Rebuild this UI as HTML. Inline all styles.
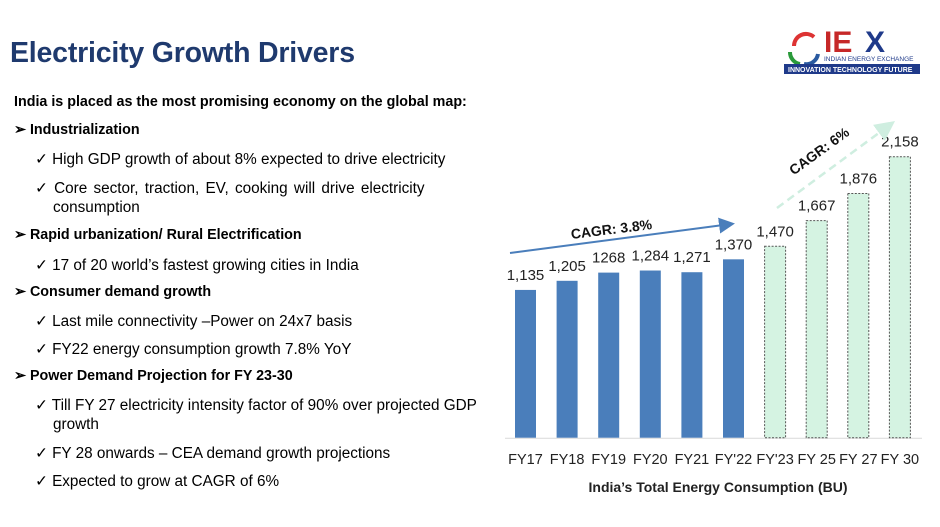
<!DOCTYPE html>
<html><head><meta charset="utf-8"><style>
body{margin:0;width:940px;height:527px;background:#fff;font-family:"Liberation Sans",sans-serif;position:relative;overflow:hidden}
.t{position:absolute;white-space:nowrap;color:#000;font-size:15.3px}
.b{font-weight:bold;font-size:14.3px}
</style></head><body>
<div class="t b" style="left:10px;top:37px;font-size:28.5px;color:#1f3a6e;letter-spacing:-0.2px">Electricity Growth Drivers</div>
<div style="position:absolute;left:782px;top:22px;width:140px;height:52px">
<svg width="140" height="52"><path d="M12 24 a12 12 0 0 1 20-9" stroke="#d33" stroke-width="4" fill="none"/><path d="M8 30 a12 12 0 0 0 10 12" stroke="#2a9a3a" stroke-width="4" fill="none"/><path d="M22 42 a12 12 0 0 0 14-10" stroke="#2a5aa0" stroke-width="4" fill="none"/>
<text x="42" y="30" font-family="Liberation Sans" font-weight="bold" font-size="30" fill="#c62828">IE</text><text x="83" y="30" font-family="Liberation Sans" font-weight="bold" font-size="30" fill="#1f3a8a">X</text>
<text x="42" y="39" font-family="Liberation Sans" font-size="6.5" fill="#1f3a8a">INDIAN ENERGY EXCHANGE</text>
<rect x="2" y="42" width="136" height="10" fill="#1f3a8a"/><text x="6" y="50" font-family="Liberation Sans" font-weight="bold" font-size="7" fill="#fff">INNOVATION TECHNOLOGY FUTURE</text></svg></div>
<div class="t b" style="left:14px;top:94px">India is placed as the most promising economy on the global map:</div>
<div class="t b" style="left:14px;top:122px">➢ Industrialization</div>
<div class="t" style="left:35px;top:150px">✓ High GDP growth of about 8% expected to drive electricity</div>
<div class="t" style="left:35px;top:179px;word-spacing:2px">✓ Core sector, traction, EV, cooking will drive electricity</div>
<div class="t" style="left:53px;top:199px">consumption</div>
<div class="t b" style="left:14px;top:227px">➢ Rapid urbanization/ Rural Electrification</div>
<div class="t" style="left:35px;top:256px">✓ 17 of 20 world’s fastest growing cities in India</div>
<div class="t b" style="left:14px;top:284px">➢ Consumer demand growth</div>
<div class="t" style="left:35px;top:312px">✓ Last mile connectivity –Power on 24x7 basis</div>
<div class="t" style="left:35px;top:340px">✓ FY22 energy consumption growth 7.8% YoY</div>
<div class="t b" style="left:14px;top:368px">➢ Power Demand Projection for FY 23-30</div>
<div class="t" style="left:35px;top:396px">✓ Till FY 27 electricity intensity factor of 90% over projected GDP</div>
<div class="t" style="left:53px;top:416px">growth</div>
<div class="t" style="left:35px;top:444px">✓ FY 28 onwards – CEA demand growth projections</div>
<div class="t" style="left:35px;top:472px">✓ Expected to grow at CAGR of 6%</div>
<svg id="chart" width="940" height="527" style="position:absolute;left:0;top:0">
<defs><marker id="ab" markerWidth="8" markerHeight="8" refX="6" refY="4" orient="auto"><path d="M0,0 L8,4 L0,8z" fill="#4a7ebb"/></marker>
<marker id="ag" markerWidth="8" markerHeight="8" refX="6" refY="4" orient="auto"><path d="M0,0 L8,4 L0,8z" fill="#cfeee0"/></marker></defs>
</svg>
<script>
const categories=["FY17","FY18","FY19","FY20","FY21","FY'22","FY'23","FY 25","FY 27","FY 30"];
const values=[1135,1205,1268,1284,1271,1370,1470,1667,1876,2158];
const valueLabels=["1,135","1,205","1268","1,284","1,271","1,370","1,470","1,667","1,876","2,158"];
const projected=[0,0,0,0,0,0,1,1,1,1];
const NS="http://www.w3.org/2000/svg",svg=document.getElementById('chart');
const base=437.7,scale=0.1302,x0=525.5,step=41.6,bw=21;
const xs=i=>x0+i*step, ys=v=>base-v*scale;
function mk(t,a){const e=document.createElementNS(NS,t);for(const k in a)e.setAttribute(k,a[k]);svg.appendChild(e);return e;}
const ax=mk('line',{x1:505,y1:base+0.5,x2:922,y2:base+0.5,stroke:'#d9d9d9','stroke-width':1});


values.forEach((v,i)=>{
 const p=projected[i];
 const r=mk('rect',{x:xs(i)-bw/2,y:ys(v),width:bw,height:v*scale,fill:p?'#d5f3e2':'#4a7ebb',stroke:p?'#555':'none','stroke-width':p?1:0,'stroke-dasharray':p?'2,1.5':''});
 
 
 const l=mk('text',{x:xs(i),y:ys(v)-10,'text-anchor':'middle','font-size':15,'font-family':'Liberation Sans',fill:'#222'});
 l.textContent=valueLabels[i];
 
 
 const c=mk('text',{x:xs(i),y:464,'text-anchor':'middle','font-size':14.5,'font-family':'Liberation Sans',fill:'#222'});
 c.textContent=categories[i];
 
 
});
const t=mk('text',{x:718,y:492,'text-anchor':'middle','font-size':14,'font-weight':'bold','font-family':'Liberation Sans',fill:'#222'});
t.textContent="India’s Total Energy Consumption  (BU)";


const a1=mk('line',{x1:510,y1:253,x2:731,y2:224,stroke:'#4a7ebb','stroke-width':2,'marker-end':'url(#ab)'});


const a2=mk('line',{x1:777,y1:208,x2:891,y2:124,stroke:'#cfeee0','stroke-width':2.5,'stroke-dasharray':'8,5','marker-end':'url(#ag)'});


const c1=mk('text',{x:612,y:234,'text-anchor':'middle','font-size':14,'font-weight':'bold','font-family':'Liberation Sans',fill:'#111',transform:'rotate(-7 612 234)'});
c1.textContent="CAGR: 3.8%";


const c2=mk('text',{x:822,y:155,'text-anchor':'middle','font-size':14,'font-weight':'bold','font-family':'Liberation Sans',fill:'#111',transform:'rotate(-36 822 155)'});
c2.textContent="CAGR: 6%";


</script>
</body></html>
